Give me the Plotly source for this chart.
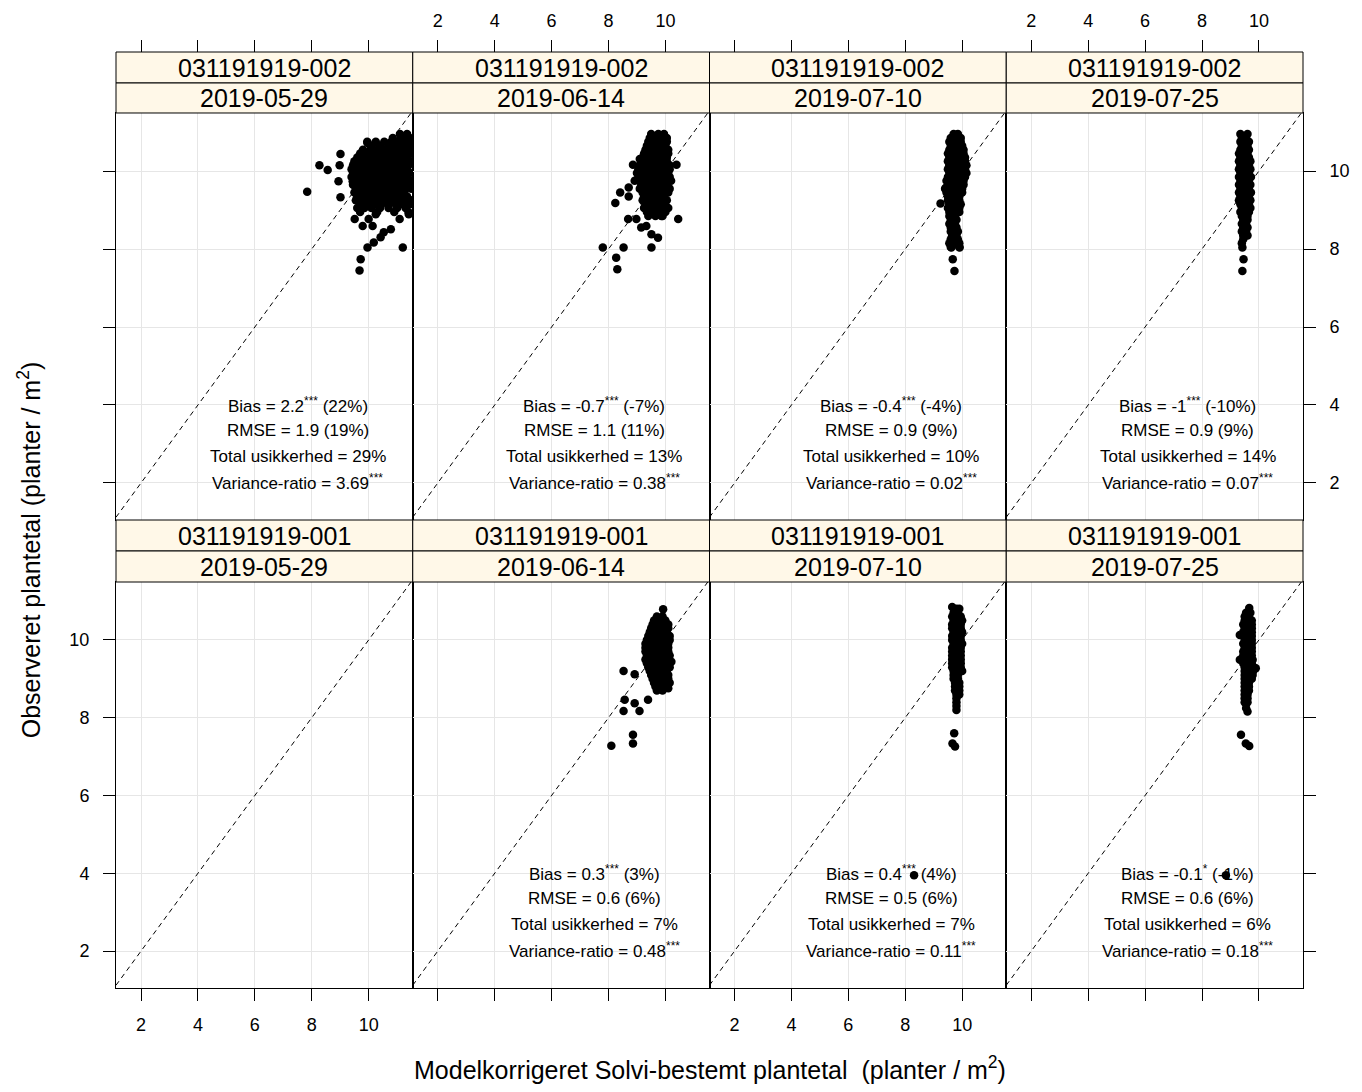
import plotly.graph_objects as go

# ---------------- data ----------------
X_RANGE = [1.12, 11.55]
Y_RANGE = [1.05, 11.49]
TICKS = [2, 4, 6, 8, 10]

farm_labels = ["031191919-002", "031191919-001"]
date_labels = ["2019-05-29", "2019-06-14", "2019-07-10", "2019-07-25"]

# scattered (predicted, observed) points per panel
out_002_0529 = [
    (7.84, 9.47), (8.27, 10.15), (8.56, 10.03), (9.01, 10.44), (8.98, 10.15), (8.94, 9.74),
    (9.01, 9.33), (9.44, 9.74), (9.96, 10.72), (10.78, 10.72), (11.13, 10.9), (9.51, 8.77),
    (9.79, 8.59), (10.0, 8.77), (10.14, 8.59), (10.25, 8.89), (10.42, 8.30), (10.53, 8.43),
    (10.78, 8.51), (10.18, 8.17), (9.96, 8.04), (9.72, 7.74), (9.68, 7.45), (11.2, 8.04),
    (11.09, 8.77), (11.41, 8.89),
]
# dense part of each cloud, row by row: (observed, [predicted values in that row])
rows_002_0529 = [
    (10.95, [11.1, 11.35]),
    (10.85, [10.85, 11.2, 11.45]),
    (10.75, [9.95, 10.25, 10.55, 10.8, 11.05, 11.3, 11.5]),
    (10.65, [10.1, 10.4, 10.7, 10.95, 11.2, 11.45]),
    (10.55, [9.8, 10.05, 10.3, 10.55, 10.8, 11.05, 11.3, 11.5]),
    (10.45, [9.7, 9.95, 10.2, 10.45, 10.7, 10.95, 11.2, 11.45]),
    (10.35, [9.6, 9.85, 10.1, 10.35, 10.6, 10.85, 11.1, 11.35]),
    (10.25, [9.5, 9.75, 10.0, 10.25, 10.5, 10.75, 11.0, 11.25, 11.5]),
    (10.15, [9.45, 9.65, 9.9, 10.15, 10.4, 10.65, 10.9, 11.15, 11.4]),
    (10.05, [9.4, 9.6, 9.85, 10.1, 10.35, 10.6, 10.85, 11.1, 11.35]),
    (9.95, [9.45, 9.7, 9.95, 10.2, 10.45, 10.7, 10.95, 11.2, 11.45]),
    (9.85, [9.4, 9.6, 9.85, 10.1, 10.35, 10.6, 10.85, 11.1, 11.35]),
    (9.75, [9.5, 9.75, 10.0, 10.25, 10.5, 10.75, 11.0, 11.25, 11.5]),
    (9.65, [9.45, 9.65, 9.9, 10.15, 10.4, 10.65, 10.9, 11.15, 11.4]),
    (9.55, [9.55, 9.8, 10.05, 10.3, 10.55, 10.8, 11.05, 11.3, 11.5]),
    (9.45, [9.5, 9.75, 10.0, 10.25, 10.5, 10.75, 11.0, 11.25]),
    (9.35, [9.6, 9.85, 10.1, 10.35, 10.6, 10.85, 11.1, 11.35]),
    (9.25, [9.55, 9.8, 10.05, 10.3, 10.55, 10.8, 11.05, 11.3, 11.5]),
    (9.15, [9.7, 9.95, 10.2, 10.45, 10.7, 10.95, 11.2, 11.45]),
    (9.05, [9.6, 9.85, 10.1, 10.4, 10.7, 11.0, 11.3]),
    (8.95, [9.7, 10.3, 10.9, 11.4]),
]

out_002_0614 = [
    (7.80, 8.04), (8.27, 7.78), (8.31, 7.48), (8.53, 8.04), (8.24, 9.18), (8.41, 9.45),
    (8.71, 9.35), (8.71, 9.58), (8.86, 10.16), (9.10, 10.31), (8.92, 9.75), (8.69, 8.77),
    (8.98, 8.77), (9.15, 8.55), (9.33, 8.59), (9.51, 8.38), (9.74, 8.29), (9.51, 8.04),
    (10.45, 8.77), (10.39, 10.16), (9.86, 8.85),
]
rows_002_0614 = [
    (10.95, [9.5, 9.75, 9.95]),
    (10.85, [9.45, 9.65, 9.9, 10.05]),
    (10.75, [9.4, 9.6, 9.85, 10.05]),
    (10.65, [9.35, 9.55, 9.8, 10.0]),
    (10.55, [9.3, 9.5, 9.75, 9.95, 10.1]),
    (10.45, [9.25, 9.45, 9.7, 9.9, 10.1]),
    (10.35, [9.2, 9.4, 9.65, 9.85, 10.05]),
    (10.25, [9.15, 9.35, 9.6, 9.8, 10.05]),
    (10.15, [9.1, 9.3, 9.55, 9.75, 10.0, 10.15]),
    (10.05, [9.05, 9.25, 9.5, 9.7, 9.95, 10.15]),
    (9.95, [9.0, 9.2, 9.45, 9.65, 9.9, 10.1]),
    (9.85, [9.05, 9.25, 9.5, 9.75, 9.95, 10.15]),
    (9.75, [9.1, 9.3, 9.55, 9.8, 10.0, 10.2]),
    (9.65, [9.15, 9.35, 9.6, 9.85, 10.05]),
    (9.55, [9.1, 9.3, 9.55, 9.75, 10.0, 10.15]),
    (9.45, [9.2, 9.4, 9.65, 9.9, 10.1]),
    (9.35, [9.25, 9.45, 9.7, 9.95]),
    (9.25, [9.2, 9.4, 9.6, 9.85, 10.05]),
    (9.15, [9.3, 9.5, 9.75, 9.95]),
    (9.05, [9.25, 9.45, 9.7, 9.9, 10.1]),
    (8.95, [9.35, 9.55, 9.8, 10.0]),
    (8.85, [9.4, 9.65, 9.9]),
]

out_002_0710 = [(9.24, 9.17), (9.44, 9.58), (9.67, 7.74), (9.73, 7.44), (9.62, 8.04), (9.91, 8.04)]
rows_002_0710 = [
    (10.95, [9.7, 9.85]), (10.85, [9.6, 9.8, 9.95]), (10.75, [9.55, 9.75, 9.95]),
    (10.65, [9.6, 9.8, 10.0]), (10.55, [9.55, 9.75, 9.95, 10.05]), (10.45, [9.5, 9.7, 9.9, 10.05]),
    (10.35, [9.55, 9.75, 9.95, 10.1]), (10.25, [9.5, 9.7, 9.9, 10.1]), (10.15, [9.55, 9.75, 9.95, 10.15]),
    (10.05, [9.5, 9.7, 9.9, 10.1]), (9.95, [9.55, 9.75, 9.95, 10.15]), (9.85, [9.5, 9.7, 9.9, 10.1]),
    (9.75, [9.45, 9.65, 9.85, 10.05]), (9.65, [9.5, 9.7, 9.9, 10.05]), (9.55, [9.4, 9.6, 9.8, 10.0]),
    (9.45, [9.45, 9.65, 9.85, 10.0]), (9.35, [9.5, 9.7, 9.9]), (9.25, [9.5, 9.7, 9.9]),
    (9.15, [9.55, 9.75, 9.95]), (9.05, [9.5, 9.7, 9.9]), (8.95, [9.55, 9.75, 9.9]),
    (8.85, [9.55, 9.75]), (8.75, [9.6, 9.8]), (8.65, [9.55, 9.75]), (8.55, [9.6, 9.8]),
    (8.45, [9.6, 9.85]), (8.35, [9.65, 9.8]), (8.25, [9.6, 9.85]), (8.15, [9.55, 9.75, 9.9]),
    (8.05, [9.6, 9.9]),
]

out_002_0725 = [(9.42, 8.04), (9.46, 7.74), (9.42, 7.44)]
rows_002_0725 = [
    (10.95, [9.35, 9.6]), (10.85, [9.4, 9.55]), (10.75, [9.35, 9.5, 9.65]), (10.65, [9.4, 9.6]),
    (10.55, [9.35, 9.5, 9.65]), (10.45, [9.3, 9.45, 9.6]), (10.35, [9.35, 9.5, 9.65]),
    (10.25, [9.3, 9.45, 9.6, 9.7]), (10.15, [9.35, 9.5, 9.65]), (10.05, [9.3, 9.45, 9.6, 9.7]),
    (9.95, [9.35, 9.5, 9.65]), (9.85, [9.3, 9.45, 9.6, 9.72]), (9.75, [9.35, 9.5, 9.65]),
    (9.65, [9.3, 9.45, 9.6, 9.7]), (9.55, [9.35, 9.5, 9.65]), (9.45, [9.3, 9.45, 9.6, 9.72]),
    (9.35, [9.35, 9.5, 9.65]), (9.25, [9.3, 9.45, 9.6, 9.7]), (9.15, [9.35, 9.5, 9.65]),
    (9.05, [9.4, 9.55, 9.7]), (8.95, [9.35, 9.5, 9.65]), (8.85, [9.4, 9.6]), (8.75, [9.45, 9.6]),
    (8.65, [9.4, 9.55]), (8.55, [9.45, 9.6]), (8.45, [9.4, 9.55]), (8.35, [9.45, 9.6]),
    (8.25, [9.45]), (8.15, [9.4]),
]

out_001_0529 = []
rows_001_0529 = []

out_001_0614 = [
    (8.10, 7.28), (8.86, 7.56), (8.86, 7.34), (8.53, 8.17), (8.57, 8.46), (8.92, 8.37),
    (9.09, 8.17), (9.39, 8.46), (8.53, 9.20), (8.92, 9.12), (9.92, 10.79), (10.21, 9.44),
    (10.1, 8.76),
]
rows_001_0614 = [
    (10.6, [9.7, 9.9]), (10.5, [9.6, 9.8, 10.0]), (10.4, [9.55, 9.75, 9.95, 10.1]),
    (10.3, [9.5, 9.7, 9.9, 10.1]), (10.2, [9.45, 9.65, 9.85, 10.05]), (10.1, [9.4, 9.6, 9.8, 10.0, 10.15]),
    (10.0, [9.35, 9.55, 9.75, 9.95, 10.15]), (9.9, [9.3, 9.5, 9.7, 9.9, 10.1]),
    (9.8, [9.3, 9.5, 9.7, 9.9, 10.1]), (9.7, [9.3, 9.5, 9.7, 9.9, 10.1]),
    (9.6, [9.35, 9.55, 9.75, 9.95, 10.15]), (9.5, [9.3, 9.5, 9.7, 9.9, 10.1]),
    (9.4, [9.35, 9.55, 9.75, 9.95, 10.15]), (9.3, [9.4, 9.6, 9.8, 10.0, 10.15]),
    (9.2, [9.45, 9.65, 9.85, 10.05]), (9.1, [9.5, 9.7, 9.9, 10.1]), (9.0, [9.55, 9.75, 9.95, 10.1]),
    (8.9, [9.6, 9.8, 10.0, 10.15]), (8.8, [9.65, 9.85, 10.05]), (8.7, [9.7, 9.9]),
]

out_001_0710 = [(9.72, 7.6), (9.66, 7.34), (9.75, 7.26), (8.31, 3.95)]
rows_001_0710 = [
    (10.85, [9.65]), (10.8, [9.8, 9.9]), (10.7, [9.7, 9.85]), (10.6, [9.65, 9.8, 9.95]),
    (10.5, [9.7, 9.85, 10.0]), (10.4, [9.65, 9.8, 9.95]), (10.3, [9.65, 9.8, 9.95]),
    (10.2, [9.7, 9.85, 10.0]), (10.1, [9.65, 9.8, 9.95]), (10.0, [9.65, 9.8, 9.95]),
    (9.9, [9.7, 9.85, 10.0]), (9.8, [9.65, 9.8, 9.95]), (9.7, [9.65, 9.8, 9.95]),
    (9.6, [9.65, 9.8, 9.95]), (9.5, [9.65, 9.8, 9.95]), (9.4, [9.65, 9.8, 9.95]),
    (9.3, [9.65, 9.8, 9.95]), (9.2, [9.7, 9.85, 10.0]), (9.1, [9.7, 9.85]), (9.0, [9.7, 9.85]),
    (8.9, [9.75, 9.9]), (8.8, [9.75, 9.9]), (8.7, [9.75, 9.9]), (8.6, [9.8, 9.9]),
    (8.5, [9.8]), (8.4, [9.8]), (8.3, [9.8]), (8.2, [9.8]),
]

out_001_0725 = [(9.37, 7.56), (9.54, 7.34), (9.66, 7.27), (8.84, 3.95), (9.33, 10.13), (9.89, 9.27)]
rows_001_0725 = [
    (10.82, [9.66]), (10.7, [9.55, 9.7]), (10.6, [9.5, 9.65]), (10.5, [9.5, 9.65, 9.75]),
    (10.4, [9.45, 9.6, 9.75]), (10.3, [9.5, 9.65, 9.75]), (10.2, [9.45, 9.6, 9.75]),
    (10.1, [9.45, 9.6, 9.75]), (10.0, [9.5, 9.65, 9.75]), (9.9, [9.45, 9.6, 9.75]),
    (9.8, [9.5, 9.65, 9.75]), (9.7, [9.45, 9.6, 9.75]), (9.6, [9.45, 9.6, 9.75]),
    (9.49, [9.33, 9.5, 9.65, 9.78]), (9.4, [9.45, 9.6, 9.75]), (9.3, [9.5, 9.65, 9.82]),
    (9.2, [9.5, 9.65, 9.8]), (9.1, [9.5, 9.65, 9.78]), (9.0, [9.5, 9.65, 9.75]),
    (8.9, [9.5, 9.65]), (8.8, [9.5, 9.65]), (8.7, [9.5, 9.65]), (8.6, [9.5, 9.6]),
    (8.5, [9.5, 9.6]), (8.4, [9.5, 9.6]), (8.25, [9.55]), (8.16, [9.6]),
]

stats_002_0529 = ["Bias = 2.2<sup>***</sup> (22%)", "RMSE = 1.9 (19%)", "Total usikkerhed = 29%", "Variance-ratio = 3.69<sup>***</sup>"]
stats_002_0614 = ["Bias = -0.7<sup>***</sup> (-7%)", "RMSE = 1.1 (11%)", "Total usikkerhed = 13%", "Variance-ratio = 0.38<sup>***</sup>"]
stats_002_0710 = ["Bias = -0.4<sup>***</sup> (-4%)", "RMSE = 0.9 (9%)", "Total usikkerhed = 10%", "Variance-ratio = 0.02<sup>***</sup>"]
stats_002_0725 = ["Bias = -1<sup>***</sup> (-10%)", "RMSE = 0.9 (9%)", "Total usikkerhed = 14%", "Variance-ratio = 0.07<sup>***</sup>"]
stats_001_0529 = []
stats_001_0614 = ["Bias = 0.3<sup>***</sup> (3%)", "RMSE = 0.6 (6%)", "Total usikkerhed = 7%", "Variance-ratio = 0.48<sup>***</sup>"]
stats_001_0710 = ["Bias = 0.4<sup>***</sup> (4%)", "RMSE = 0.5 (6%)", "Total usikkerhed = 7%", "Variance-ratio = 0.11<sup>***</sup>"]
stats_001_0725 = ["Bias = -0.1<sup>*</sup> (-1%)", "RMSE = 0.6 (6%)", "Total usikkerhed = 6%", "Variance-ratio = 0.18<sup>***</sup>"]

STAT_X = 7.5
STAT_Y = [4.0, 3.34, 2.68, 2.02]

x_title = "Modelkorrigeret Solvi-bestemt plantetal  (planter / m<sup>2</sup>)"
y_title = "Observeret plantetal (planter / m<sup>2</sup>)"

# ---------------- figure ----------------
FONT = "Liberation Sans, Arial, sans-serif"
STRIP_BG = "#FFF8E8"
GRID = "#E6E6E6"


def expand(outliers, rows):
    pts = list(outliers)
    for yv, xs in rows:
        pts.extend((xv, yv) for xv in xs)
    return pts


points = [[expand(out_002_0529, rows_002_0529), expand(out_002_0614, rows_002_0614),
           expand(out_002_0710, rows_002_0710), expand(out_002_0725, rows_002_0725)],
          [expand(out_001_0529, rows_001_0529), expand(out_001_0614, rows_001_0614),
           expand(out_001_0710, rows_001_0710), expand(out_001_0725, rows_001_0725)]]
stats = [[stats_002_0529, stats_002_0614, stats_002_0710, stats_002_0725],
         [stats_001_0529, stats_001_0614, stats_001_0710, stats_001_0725]]

col_dom = [[0.0, 0.25], [0.25, 0.5], [0.5, 0.75], [0.75, 1.0]]
row_dom = [[0.5, 0.93483], [0.0, 0.43376]]
strip_top = [[0.96688, 1.0], [0.46688, 0.5]]
strip_bot = [[0.93483, 0.96688], [0.43376, 0.46688]]


def sfx(k):
    return "" if k == 1 else str(k)


fig = go.Figure()
layout = {}
annotations = []
shapes = []

for r in range(2):
    for c in range(4):
        k = r * 4 + c + 1
        xa, ya = "x" + sfx(k), "y" + sfx(k)
        fig.add_trace(go.Scatter(x=[0, 12], y=[0, 12], mode="lines",
                                 line=dict(color="black", width=1, dash="5px,4px"),
                                 xaxis=xa, yaxis=ya, hoverinfo="skip", showlegend=False))
        pts = points[r][c]
        if pts:
            fig.add_trace(go.Scatter(x=[p[0] for p in pts], y=[p[1] for p in pts], mode="markers",
                                     marker=dict(color="black", size=8.5),
                                     xaxis=xa, yaxis=ya, showlegend=False))
        for i, line in enumerate(stats[r][c]):
            annotations.append(dict(x=STAT_X, y=STAT_Y[i], xref=xa, yref=ya, text=line,
                                    xanchor="center", yanchor="middle",
                                    showarrow=False, font=dict(size=17, color="black", family=FONT)))

        xd = dict(domain=col_dom[c], anchor=ya, range=X_RANGE, tickvals=TICKS, automargin=False,
                  showgrid=True, gridcolor=GRID, gridwidth=1, zeroline=False,
                  showline=True, linecolor="black", linewidth=1, mirror=True,
                  tickfont=dict(size=18, color="black", family=FONT))
        if r == 1:
            xd.update(ticks="outside", ticklen=12, tickcolor="black", tickwidth=1,
                      showticklabels=(c in (0, 2)), ticklabelstandoff=8)
        else:
            xd.update(ticks="", showticklabels=False)
        layout["xaxis" + sfx(k)] = xd

        yd = dict(domain=row_dom[r], anchor=xa, range=Y_RANGE, tickvals=TICKS, automargin=False,
                  showgrid=True, gridcolor=GRID, gridwidth=1, zeroline=False,
                  showline=True, linecolor="black", linewidth=1, mirror=True,
                  tickfont=dict(size=18, color="black", family=FONT))
        if c == 0:
            yd.update(side="left", ticks="outside", ticklen=12, tickcolor="black", tickwidth=1,
                      showticklabels=(r == 1), ticklabelstandoff=10)
        elif c == 3:
            yd.update(side="right", ticks="outside", ticklen=12, tickcolor="black", tickwidth=1,
                      showticklabels=(r == 0), ticklabelstandoff=10)
        else:
            yd.update(ticks="", showticklabels=False)
        layout["yaxis" + sfx(k)] = yd

        x0, x1 = col_dom[c]
        for dom, txt in ((strip_top[r], farm_labels[r]), (strip_bot[r], date_labels[c])):
            shapes.append(dict(type="rect", xref="paper", yref="paper", x0=x0, x1=x1,
                               y0=dom[0], y1=dom[1], fillcolor=STRIP_BG,
                               line=dict(color="black", width=1), layer="above"))
            annotations.append(dict(x=(x0 + x1) / 2, y=(dom[0] + dom[1]) / 2, xref="paper", yref="paper",
                                    text=txt, showarrow=False, xanchor="center", yanchor="middle",
                                    font=dict(size=25, color="black", family=FONT)))

# tick-only axes sitting above the top strips
for c in range(4):
    k = 9 + c
    base = "x" + sfx(c + 1)
    layout["xaxis" + str(k)] = dict(overlaying=base, anchor="free", position=1.0, side="top",
                                    range=X_RANGE, tickvals=TICKS, showgrid=False, zeroline=False,
                                    automargin=False,
                                    showline=False, ticks="outside", ticklen=12, tickcolor="black",
                                    tickwidth=1, showticklabels=(c in (1, 3)), ticklabelstandoff=6,
                                    tickfont=dict(size=18, color="black", family=FONT))
    fig.add_trace(go.Scatter(x=[None], y=[None], xaxis="x" + str(k), yaxis="y" + sfx(c + 1),
                             mode="markers", showlegend=False, hoverinfo="skip"))

annotations.append(dict(x=0.5, y=-0.085, xref="paper", yref="paper", text=x_title, showarrow=False,
                        xanchor="center", yanchor="middle", font=dict(size=25, color="black", family=FONT)))
annotations.append(dict(x=-0.073, y=0.468, xref="paper", yref="paper", text=y_title, showarrow=False,
                        textangle=-90, xanchor="center", yanchor="middle",
                        font=dict(size=25, color="black", family=FONT)))

# page has an 8px body margin: size the figure so the plot area lands at x 116-1303, y 52-988
fig.update_layout(width=1346, height=1076, margin=dict(l=108, r=51, t=44, b=96, autoexpand=False),
                  paper_bgcolor="white", plot_bgcolor="white", showlegend=False,
                  font=dict(family=FONT, color="black"),
                  annotations=annotations, shapes=shapes, **layout)

fig.write_html("out.html")
